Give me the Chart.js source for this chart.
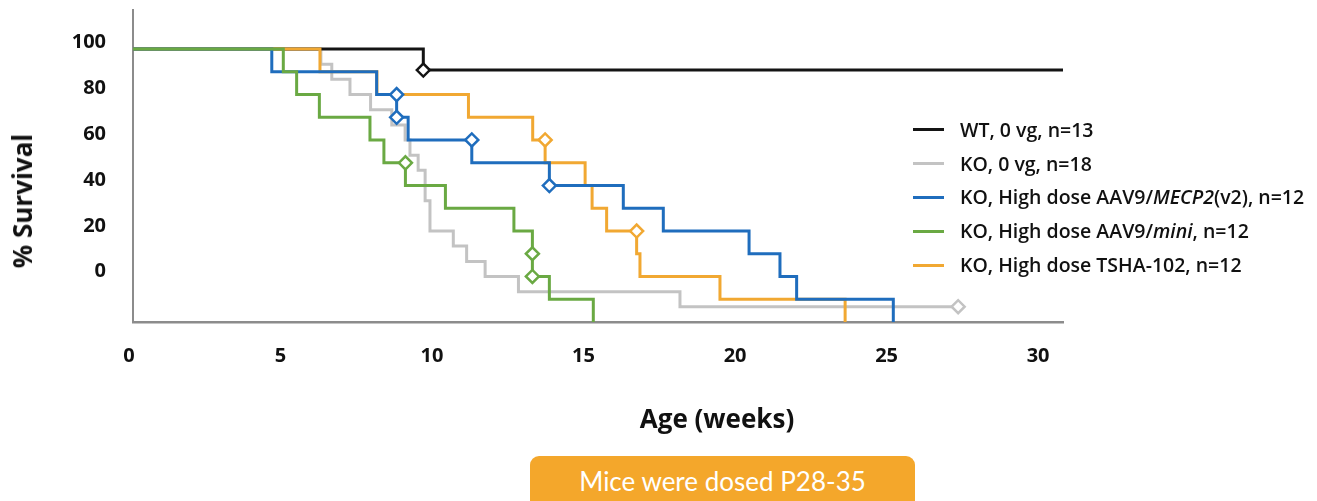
<!DOCTYPE html>
<html>
<head>
<meta charset="utf-8">
<title>Survival after AAV9 dosing</title>
<script src="https://cdn.jsdelivr.net/npm/chart.js@4.4.1/dist/chart.umd.min.js"></script>
<style>
  html, body { margin: 0; padding: 0; background: #ffffff; }
  #wrap { position: relative; width: 1317px; height: 501px; overflow: hidden; font-family: "Open Sans", sans-serif; color: #111; }
  #surv { position: absolute; left: 0; top: 0; }
  .ytitle { position: absolute; left: 22px; top: 201px; transform: translate(-50%, -50%) rotate(-90deg);
            font: 700 26px/30px "Open Sans", sans-serif; white-space: nowrap; }
  .xtitle { position: absolute; left: 717px; top: 418px; transform: translate(-50%, -50%);
            font: 700 26px/30px "Open Sans", sans-serif; white-space: nowrap; }
  #legend { position: absolute; left: 913px; top: 113px; }
  #legend .row { display: flex; align-items: center; height: 33.8px; white-space: nowrap;
                 font: 600 19.5px/24px "Open Sans", sans-serif; }
  #legend .swatch { width: 31px; height: 3px; margin-right: 16px; }
  .note { position: absolute; left: 530px; top: 456px; width: 385px; height: 60px;
          background: #f4a72b; border-radius: 9px; color: #ffffff; text-align: center;
          font: 400 26px/50px Lato, sans-serif; }
</style>
</head>
<body>
<div id="wrap">
  <canvas id="surv" width="1317" height="501"></canvas>
  <div class="ytitle">% Survival</div>
  <div class="xtitle">Age (weeks)</div>
  <div id="legend"></div>
  <div class="note">Mice were dosed P28-35</div>
</div>
<script>
// Axis ticks
const xTickValues = [0, 5, 10, 15, 20, 25, 30];
const yTickValues = [0, 20, 40, 60, 80, 100];

// Group names (italic part marked separately)
const groupNames = [
  'WT, 0 vg, n=13',
  'KO, 0 vg, n=18',
  'KO, High dose AAV9/MECP2(v2), n=12',
  'KO, High dose AAV9/mini, n=12',
  'KO, High dose TSHA-102, n=12'
];
const groupItalic = [null, null, 'MECP2', 'mini', null];

// Kaplan-Meier steps: week of each event and survival (%) after it
const wtWeeks = [0, 9.58, 30.69];
const wtSurv  = [100, 92.3, 92.3];
const wtCensorWeeks = [9.58];
const wtCensorSurv  = [92.3];

const koWeeks = [0, 6.20, 6.56, 7.16, 7.84, 8.54, 8.98, 9.14, 9.41, 9.64, 9.80, 10.57, 11.01, 11.62, 12.72, 18.05, 27.23];
const koSurv  = [100, 94.4, 88.9, 83.3, 77.8, 72.2, 66.7, 61.1, 55.6, 44.4, 33.3, 27.8, 22.2, 16.7, 11.1, 5.6, 5.6];
const koCensorWeeks = [27.23];
const koCensorSurv  = [5.6];

const mecp2Weeks = [0, 4.58, 8.04, 8.70, 9.08, 11.18, 13.74, 16.18, 17.50, 20.33, 21.35, 21.90, 25.09];
const mecp2Surv  = [100, 91.7, 83.3, 75, 66.7, 58.3, 50, 41.7, 33.3, 25, 16.7, 8.3, 0];
const mecp2CensorWeeks = [8.70, 8.70, 11.18, 13.74];
const mecp2CensorSurv  = [83.3, 75, 66.7, 50];

const miniWeeks = [0, 4.96, 5.40, 6.15, 7.82, 8.28, 8.99, 10.31, 12.57, 13.18, 13.18, 13.74, 15.19];
const miniSurv  = [100, 91.7, 83.3, 75, 66.7, 58.3, 50, 41.7, 33.3, 25, 16.7, 8.3, 0];
const miniCensorWeeks = [8.99, 13.18, 13.18];
const miniCensorSurv  = [58.3, 25, 16.7];

const tshaWeeks = [0, 6.17, 8.05, 11.07, 13.19, 13.60, 14.92, 15.15, 15.63, 16.62, 16.73, 19.37, 23.50];
const tshaSurv  = [100, 91.7, 83.3, 75, 66.7, 58.3, 50, 41.7, 33.3, 25, 16.7, 8.3, 0];
const tshaCensorWeeks = [13.60, 16.62];
const tshaCensorSurv  = [66.7, 33.3];

// Styling
const groupColors = ['#141414', '#c3c3c3', '#1f6dbd', '#6aa943', '#f1a832'];
const drawOrder   = [3, 4, 1, 0, 2];   // lower value is painted on top

const zip = (xs, ys) => xs.map((x, i) => ({ x: x, y: ys[i] }));

const curves = [
  [wtWeeks, wtSurv, wtCensorWeeks, wtCensorSurv],
  [koWeeks, koSurv, koCensorWeeks, koCensorSurv],
  [mecp2Weeks, mecp2Surv, mecp2CensorWeeks, mecp2CensorSurv],
  [miniWeeks, miniSurv, miniCensorWeeks, miniCensorSurv],
  [tshaWeeks, tshaSurv, tshaCensorWeeks, tshaCensorSurv]
];

const datasets = [];
curves.forEach((c, i) => {
  datasets.push({
    label: groupNames[i],
    isGroup: true,
    groupIndex: i,
    data: zip(c[0], c[1]),
    yAxisID: 'yd',
    borderColor: groupColors[i],
    borderWidth: 3,
    stepped: 'before',
    pointRadius: 0,
    fill: false,
    order: drawOrder[i]
  });
});
curves.forEach((c, i) => {
  datasets.push({
    label: groupNames[i] + ' (censored)',
    data: zip(c[2], c[3]),
    yAxisID: 'yd',
    showLine: false,
    pointStyle: 'rectRot',
    pointRadius: 6.5,
    pointBorderWidth: 2.5,
    pointBorderColor: groupColors[i],
    pointBackgroundColor: '#ffffff',
    order: -1
  });
});

// HTML legend built from the group datasets
const htmlLegend = {
  id: 'htmlLegend',
  afterInit(chart) {
    const box = document.getElementById('legend');
    box.innerHTML = '';
    chart.data.datasets.filter(d => d.isGroup).forEach(d => {
      const row = document.createElement('div');
      row.className = 'row';
      const sw = document.createElement('span');
      sw.className = 'swatch';
      sw.style.background = d.borderColor;
      row.appendChild(sw);
      const txt = document.createElement('span');
      const it = groupItalic[d.groupIndex];
      if (it) {
        const parts = d.label.split(it);
        txt.appendChild(document.createTextNode(parts[0]));
        const em = document.createElement('i');
        em.textContent = it;
        txt.appendChild(em);
        txt.appendChild(document.createTextNode(parts.slice(1).join(it)));
      } else {
        txt.textContent = d.label;
      }
      row.appendChild(txt);
      box.appendChild(row);
    });
  }
};

const tickFont = { family: 'Open Sans', weight: 'bold', size: 20 };

new Chart(document.getElementById('surv'), {
  type: 'line',
  data: { datasets: datasets },
  plugins: [htmlLegend],
  options: {
    responsive: false,
    animation: false,
    events: [],
    layout: { padding: { top: 10, right: 254, bottom: 0, left: 0 } },
    plugins: { legend: { display: false }, tooltip: { enabled: false } },
    scales: {
      x: {
        type: 'linear',
        min: 0,
        max: 30.69,
        afterBuildTicks: s => { s.ticks = xTickValues.map(v => ({ value: v })); },
        afterFit: s => { s.height = 179; s.paddingLeft = 0; s.paddingRight = 0; },
        grid: { display: false, drawTicks: false },
        border: { display: true, color: '#8c8c8c', width: 2.5 },
        ticks: { font: tickFont, color: '#111', padding: 22, labelOffset: -4, maxRotation: 0, autoSkip: false }
      },
      y: {
        position: 'left',
        min: -21.96,
        max: 114.28,
        afterBuildTicks: s => { s.ticks = yTickValues.map(v => ({ value: v })); },
        afterFit: s => { s.width = 133; s.paddingTop = 0; s.paddingBottom = 0; },
        grid: { display: false, drawTicks: false },
        border: { display: true, color: '#8c8c8c', width: 2 },
        ticks: { font: tickFont, color: '#111', padding: 27 }
      },
      yd: { display: false, min: 0, max: 114.3 }
    }
  }
});
</script>
</body>
</html>
